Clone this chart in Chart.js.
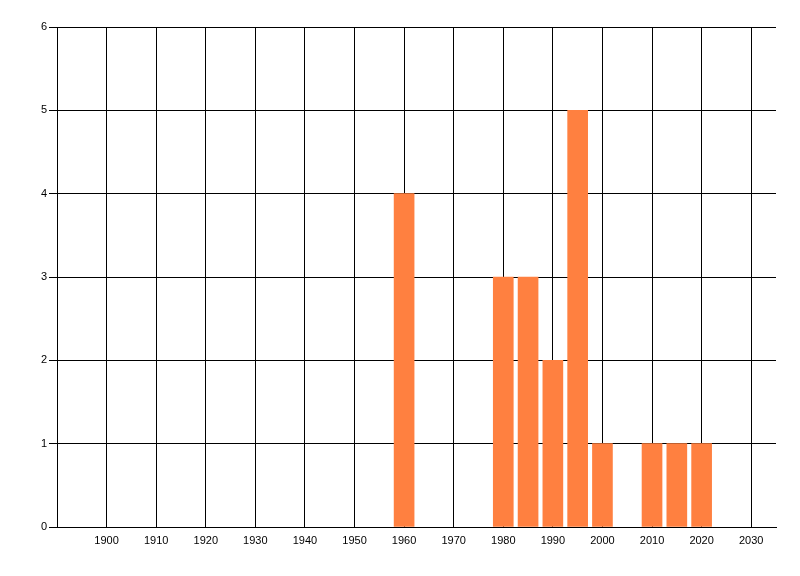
<!DOCTYPE html>
<html>
<head>
<meta charset="utf-8">
<script src="https://cdn.jsdelivr.net/npm/chart.js@4"></script>
<style>
  html, body { margin: 0; padding: 0; background: #fff; }
  canvas { display: block; }
</style>
</head>
<body>
<canvas id="chart" width="800" height="576"></canvas>
<script>
// Data
const years = [1960, 1980, 1985, 1990, 1995, 2000, 2010, 2015, 2020];
const counts = [4, 3, 3, 2, 5, 1, 1, 1, 1];
const xTicks = [1900, 1910, 1920, 1930, 1940, 1950, 1960, 1970, 1980, 1990, 2000, 2010, 2020, 2030];
const xMin = 1890, xMax = 2035;
const yMin = 0, yMax = 6;

const font = { family: 'Liberation Sans, Arial, sans-serif', size: 11 };

const ctx = document.getElementById('chart').getContext('2d');
new Chart(ctx, {
    type: 'bar',
    data: {
        datasets: [{
            data: years.map((y, i) => ({ x: y, y: counts[i] })),
            backgroundColor: '#ff8040',
            borderWidth: 0,
            barThickness: 20
        }]
    },
    options: {
        responsive: false,
        devicePixelRatio: 1,
        animation: false,
        layout: { padding: { left: 0, top: 27, right: 24, bottom: 0 } },
        plugins: { legend: { display: false }, tooltip: { enabled: false } },
        scales: {
            x: {
                type: 'linear',
                offset: false,
                min: xMin,
                max: xMax,
                afterBuildTicks: scale => { scale.ticks = xTicks.map(v => ({ value: v })); },
                afterFit: scale => { scale.height = 49; },
                grid: { color: '#000', lineWidth: 1, drawTicks: false, offset: false },
                border: { color: '#000', width: 1 },
                ticks: {
                    color: '#000', font: font, padding: 7, maxRotation: 0, autoSkip: false,
                    callback: v => String(v)
                }
            },
            y: {
                min: yMin,
                max: yMax,
                afterFit: scale => { scale.width = 57; },
                grid: { color: '#000', lineWidth: 1, tickLength: 8 },
                border: { color: '#000', width: 1 },
                ticks: { color: '#000', font: font, stepSize: 1, padding: 2 }
            }
        }
    }
});
</script>
</body>
</html>
